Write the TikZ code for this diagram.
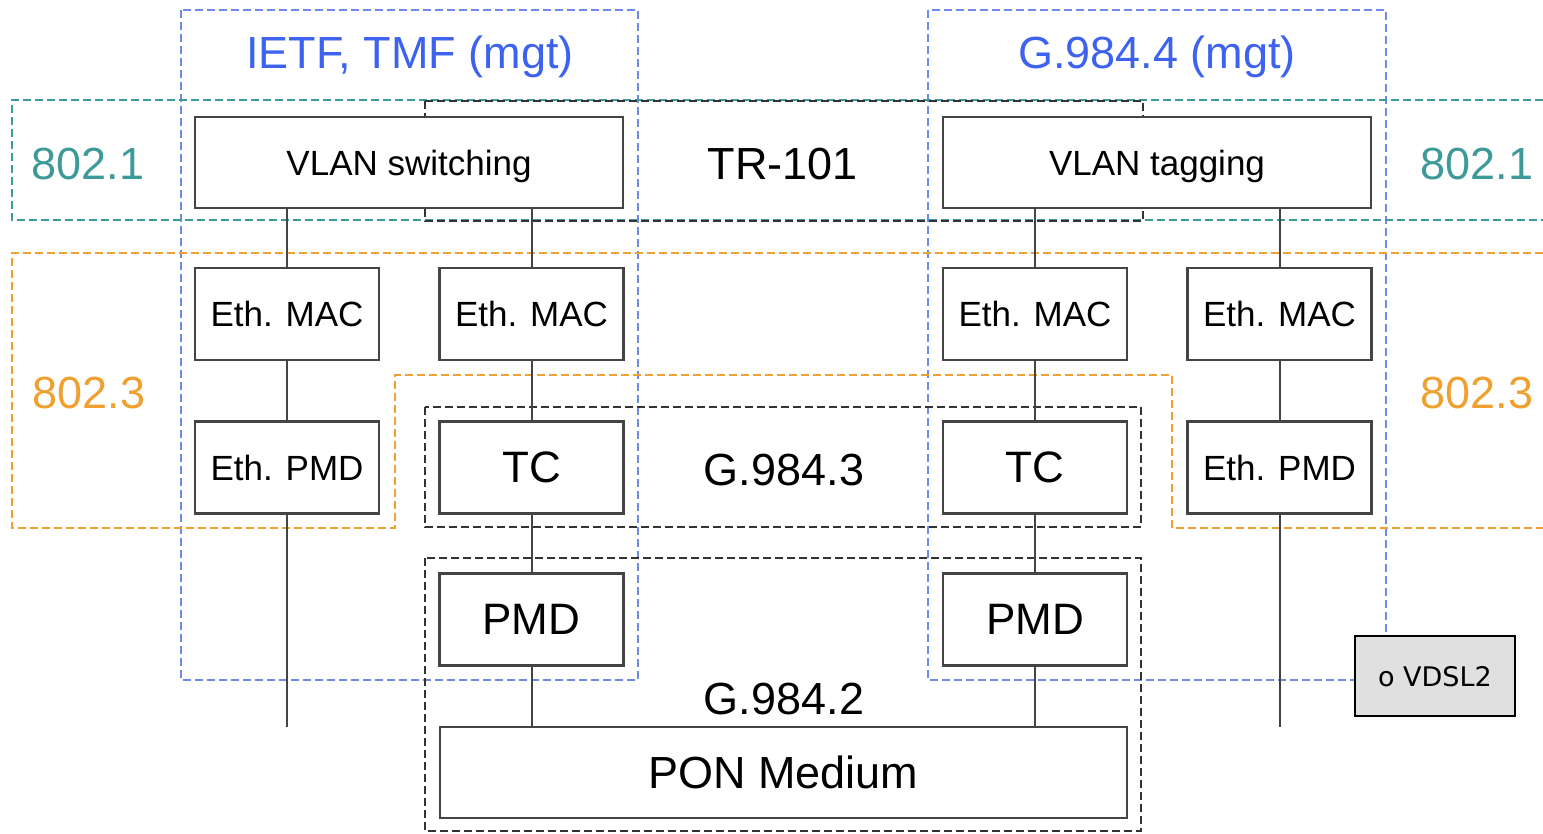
\documentclass[tikz,border=0pt]{standalone}
\usepackage{fontspec}
\setmainfont{Liberation Sans}
\newfontfamily\vdslfont{DejaVu Sans}
\definecolor{mgtblue}{HTML}{3D62F0}
\definecolor{dashblue}{HTML}{6F8BEA}
\definecolor{tealc}{HTML}{3E9A9A}
\definecolor{orangec}{HTML}{EFA030}
\definecolor{boxgray}{HTML}{444444}
\begin{document}
\begin{tikzpicture}[x=1pt,y=-1pt,
  dsh/.style={line width=2.2pt, dash pattern=on 8pt off 4pt},
  bluedash/.style={dsh, draw=dashblue},
  tealdash/.style={dsh, draw=tealc},
  orangedash/.style={dsh, draw=orangec},
  blackdash/.style={dsh, draw=black!80},
  box/.style={draw=boxgray, line width=2.5pt, fill=white, inner sep=0pt, text depth=0pt},
  small/.style={font=\fontsize{35}{40}\selectfont},
  big/.style={font=\fontsize{44}{50}\selectfont},
  conn/.style={draw=boxgray, line width=2pt},
  lbl/.style={font=\fontsize{45}{52}\selectfont, inner sep=0pt, text depth=0pt}
]
\useasboundingbox (0,0) rectangle (1543,834);
% dashed groupings
\draw[bluedash] (181,10) rectangle (638,680);
\draw[bluedash] (928,10) rectangle (1386,680);
\draw[tealdash] (1543,100) -- (12,100) -- (12,220) -- (1543,220);
\draw[blackdash] (425,101) rectangle (1143,221);
\draw[orangedash] (1543,253) -- (12,253) -- (12,528) -- (395,528) -- (395,375) -- (1172,375) -- (1172,528) -- (1543,528);
\draw[blackdash] (425,407) rectangle (1141,527);
\draw[blackdash] (425,558) rectangle (1141,831);
% group labels
\node[lbl, text=mgtblue] (ietf) at (410,52) {IETF, TMF (mgt)};
\node[lbl, text=mgtblue] (g4) at (1157,52) {G.984.4 (mgt)};
\node[lbl, text=tealc] (t1l) at (88,164) {802.1};
\node[lbl, text=tealc] (t1r) at (1477,164) {802.1};
\node[lbl, text=orangec] (t3l) at (89,393) {802.3};
\node[lbl, text=orangec] (t3r) at (1477,393) {802.3};
\node[lbl] (tr) at (783,164) {TR-101};
\node[lbl] (g3) at (784,470) {G.984.3};
\node[lbl] (g2) at (784,699) {G.984.2};
% boxes
\node[box, small, minimum width=428, minimum height=91] (vs) at (409,162.5) {VLAN switching};
\node[box, small, minimum width=428, minimum height=91] (vt) at (1157,162.5) {VLAN tagging};
\node[box, small, minimum width=184, minimum height=92] (m1) at (287,314) {Eth. MAC};
\node[box, small, minimum width=184, minimum height=92] (m2) at (531.5,314) {Eth. MAC};
\node[box, small, minimum width=184, minimum height=92] (m3) at (1035,314) {Eth. MAC};
\node[box, small, minimum width=184, minimum height=92] (m4) at (1279.5,314) {Eth. MAC};
\node[box, small, minimum width=184, minimum height=92] (p1) at (287,467.5) {Eth. PMD};
\node[box, big, minimum width=184, minimum height=92] (tc2) at (531.5,467.5) {TC};
\node[box, big, minimum width=184, minimum height=92] (tc3) at (1035,467.5) {TC};
\node[box, small, minimum width=184, minimum height=92] (p4) at (1279.5,467.5) {Eth. PMD};
\node[box, big, minimum width=184, minimum height=92] (pm2) at (531.5,619.5) {PMD};
\node[box, big, minimum width=184, minimum height=92] (pm3) at (1035,619.5) {PMD};
\node[box, font=\fontsize{45}{52}\selectfont, minimum width=687, minimum height=91] (pon) at (783.5,772.5) {PON Medium};
\node[draw=black, line width=2pt, fill=black!12, minimum width=160, minimum height=80, inner sep=0pt, text depth=0pt, font=\vdslfont\fontsize{27}{32}\selectfont] (vdsl) at (1435,676) {o VDSL2};
% free ends
\coordinate (end1) at (287,727);
\coordinate (end4) at (1279.5,727);
% connectors
\draw[conn] (m1.north |- vs.south) -- (m1.north);
\draw[conn] (m2.north |- vs.south) -- (m2.north);
\draw[conn] (m3.north |- vt.south) -- (m3.north);
\draw[conn] (m4.north |- vt.south) -- (m4.north);
\draw[conn] (m1) -- (p1);
\draw[conn] (p1) -- (end1);
\draw[conn] (m2) -- (tc2);
\draw[conn] (tc2) -- (pm2);
\draw[conn] (pm2.south) -- (pm2.south |- pon.north);
\draw[conn] (m3) -- (tc3);
\draw[conn] (tc3) -- (pm3);
\draw[conn] (pm3.south) -- (pm3.south |- pon.north);
\draw[conn] (m4) -- (p4);
\draw[conn] (p4) -- (end4);
\end{tikzpicture}
\end{document}
